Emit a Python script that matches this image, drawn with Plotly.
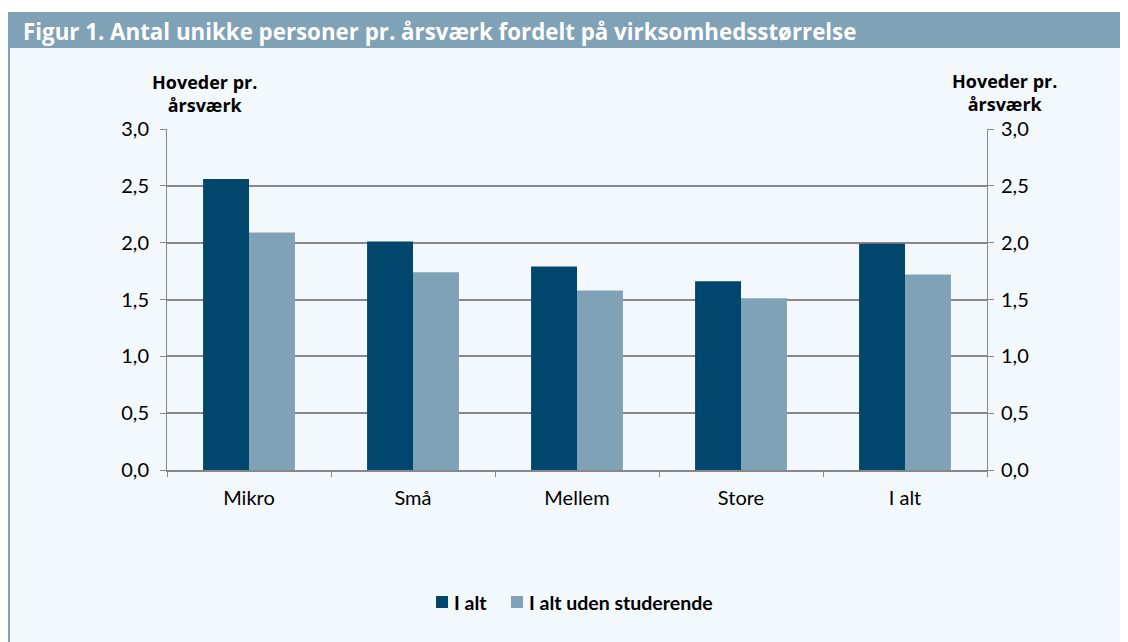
import plotly.graph_objects as go

categories = ["Mikro", "Små", "Mellem", "Store", "I alt"]
i_alt = [2.56, 2.01, 1.79, 1.66, 1.99]
i_alt_uden = [2.09, 1.74, 1.58, 1.51, 1.72]
series_names = ["I alt", "I alt uden studerende"]
tick_vals = [0, 0.5, 1.0, 1.5, 2.0, 2.5, 3.0]
tick_text = ["0,0", "0,5", "1,0", "1,5", "2,0", "2,5", "3,0"]

title_text = "Figur 1. Antal unikke personer pr. årsværk fordelt på virksomhedsstørrelse"
axis_title = "Hoveder pr.<br>årsværk"

OFF = 8  # page body margin
PW, PH = 1128, 642
W, H = PW - OFF, PH - OFF
L, R, T, B = 167 - OFF, 987 - OFF, 129 - OFF, 470 - OFF
pw, ph = R - L, B - T


def px(x):
    return (x - OFF - L) / pw


def py(y):
    return (B - (y - OFF)) / ph


dark = "#00466d"
light = "#7fa2b7"
frame = "#7fa2b7"
bg = "#f3f8fc"
grid = "#888888"
font = "Lato"
bold_font = "Open Sans"

fig = go.Figure()
fig.add_trace(go.Bar(x=categories, y=i_alt, name=series_names[0], showlegend=False,
                     marker=dict(color=dark, line=dict(width=0))))
fig.add_trace(go.Bar(x=categories, y=i_alt_uden, name=series_names[1], showlegend=False,
                     marker=dict(color=light, line=dict(width=0))))
fig.add_trace(go.Scatter(x=categories, y=i_alt, yaxis="y2", mode="none", showlegend=False, hoverinfo="skip"))

shapes = [
    dict(type="rect", xref="paper", yref="paper", x0=px(10), x1=px(PW + 20), y0=py(48), y1=py(PH + 20),
         fillcolor=bg, line=dict(width=0), layer="below"),
    dict(type="rect", xref="paper", yref="paper", x0=px(6), x1=px(PW + 20), y0=py(12), y1=py(48),
         fillcolor=frame, line=dict(width=0), layer="below"),
    dict(type="rect", xref="paper", yref="paper", x0=px(6), x1=px(10), y0=py(12), y1=py(PH + 20),
         fillcolor=frame, line=dict(width=0), layer="below"),
    # legend swatches
    dict(type="rect", xref="paper", yref="paper", x0=px(436), x1=px(448), y0=py(596), y1=py(608),
         fillcolor=dark, line=dict(width=0)),
    dict(type="rect", xref="paper", yref="paper", x0=px(511), x1=px(523), y0=py(596), y1=py(608),
         fillcolor=light, line=dict(width=0)),
]

annotations = [
    dict(text="<b>" + title_text + "</b>", x=px(21), y=py(31), xref="paper", yref="paper", xanchor="left",
         yanchor="middle", showarrow=False, font=dict(family=bold_font, size=22.3, color="white")),
    dict(text="<b>" + axis_title + "</b>", x=px(204), y=py(93), xref="paper", yref="paper", xanchor="center",
         yanchor="middle", showarrow=False, align="center", font=dict(family=bold_font, size=18, color="black")),
    dict(text="<b>" + axis_title + "</b>", x=px(1004), y=py(92), xref="paper", yref="paper", xanchor="center",
         yanchor="middle", showarrow=False, align="center", font=dict(family=bold_font, size=18, color="black")),
    dict(text="<b>" + series_names[0] + "</b>", x=px(452), y=py(602), xref="paper", yref="paper", xanchor="left",
         yanchor="middle", showarrow=False, font=dict(family=font, size=19.5, color="black")),
    dict(text="<b>" + series_names[1] + "</b>", x=px(527), y=py(602), xref="paper", yref="paper", xanchor="left",
         yanchor="middle", showarrow=False, font=dict(family=font, size=19.5, color="black")),
]

fig.update_layout(
    width=W, height=H,
    margin=dict(l=L, r=W - R, t=T, b=H - B, pad=0),
    paper_bgcolor="white", plot_bgcolor=bg,
    barmode="group", bargap=0.44, bargroupgap=0,
    font=dict(family=font, size=20, color="black"),
    shapes=shapes, annotations=annotations,
    showlegend=False,
    xaxis=dict(showline=True, linecolor=grid, linewidth=2, ticks="outside", tickson="boundaries",
               ticklen=5, tickcolor=grid, tickwidth=1, showgrid=False, tickfont=dict(size=20),
               ticklabelstandoff=9, zeroline=False),
    yaxis=dict(range=[0, 3], tickvals=tick_vals, ticktext=tick_text, showgrid=True, gridcolor=grid, gridwidth=2,
               showline=True, linecolor=grid, linewidth=1, ticks="outside", ticklen=6, tickcolor=grid,
               zeroline=False, tickfont=dict(size=20), ticklabelstandoff=7),
    yaxis2=dict(range=[0, 3], tickvals=tick_vals, ticktext=tick_text, overlaying="y", side="right",
                showgrid=False, showline=True, linecolor=grid, linewidth=1, ticks="outside", ticklen=6,
                tickcolor=grid, zeroline=False, tickfont=dict(size=20), ticklabelstandoff=3),
)

fig.write_html("out.html")
